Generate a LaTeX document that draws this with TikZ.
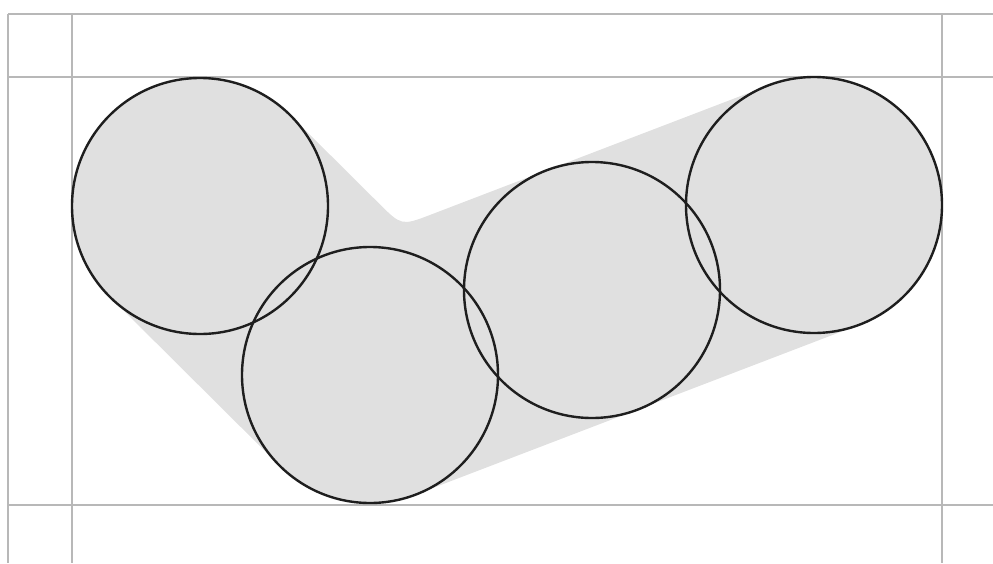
\documentclass[tikz,border=0pt]{standalone}
\usetikzlibrary{calc}
\definecolor{gridgray}{RGB}{184,184,184}
\definecolor{hullgray}{RGB}{224,224,224}
\definecolor{ringblack}{RGB}{30,30,30}
\begin{document}
\begin{tikzpicture}[x=1pt,y=-1pt,
  gridline/.style={draw=gridgray, line width=2.2pt},
  ring/.style={draw=ringblack, line width=2.4pt},
  hull/.style={fill=hullgray}]
\useasboundingbox (0,0) rectangle (993,563);
% grid
\draw[gridline] (8,14) -- (993,14);
\draw[gridline] (8,77) -- (993,77);
\draw[gridline] (8,505) -- (993,505);
\draw[gridline] (8,14) -- (8,563);
\draw[gridline] (72,14) -- (72,563);
\draw[gridline] (942,14) -- (942,563);
% centres
\coordinate (c1) at (200,206);
\coordinate (c2) at (370,375);
\coordinate (c3) at (592,290);
\coordinate (c4) at (814,205);
% tangent points
\coordinate (P1) at ($(c1)+(-45.17:128)$);
\coordinate (P2) at ($(c2)+(-45.17:128)$);
\coordinate (L2) at ($(c2)+(134.83:128)$);
\coordinate (B4) at ($(c4)+(69.05:128)$);
\coordinate (T2) at ($(c2)+(-110.95:128)$);
\coordinate (T4) at ($(c4)+(-110.95:128)$);
\coordinate (N) at (intersection of P1--P2 and T4--T2);
\coordinate (Na) at ($(N)!32pt!(T4)$);
\coordinate (Nb) at ($(N)!32pt!(P1)$);
% hull
\fill[hull] (P1) arc[start angle=-45.17, end angle=-225.17, radius=128]
  -- (L2) arc[start angle=134.83, end angle=69.05, radius=128]
  -- (B4) arc[start angle=69.05, end angle=-110.95, radius=128]
  -- (Na) .. controls (N) .. (Nb) -- cycle;
% circles
\draw[ring] (c1) circle[radius=128];
\draw[ring] (c2) circle[radius=128];
\draw[ring] (c3) circle[radius=128];
\draw[ring] (c4) circle[radius=128];
\end{tikzpicture}
\end{document}
